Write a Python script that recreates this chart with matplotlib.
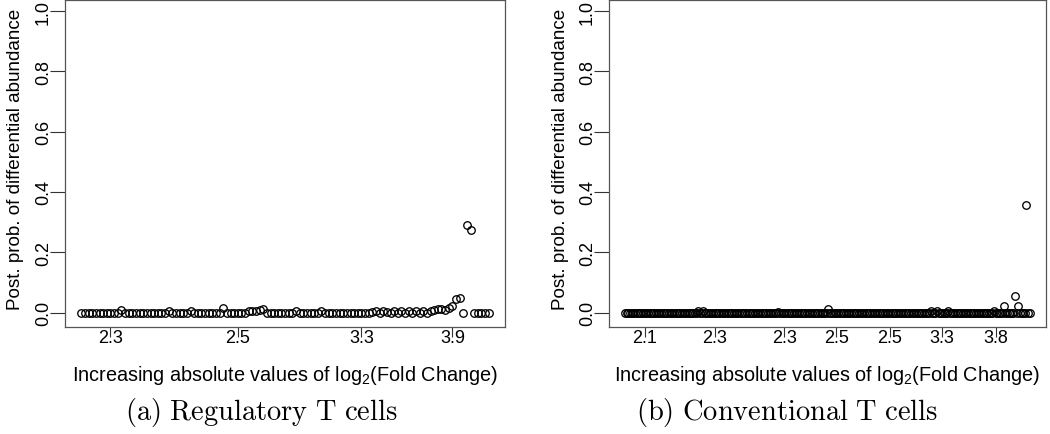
import matplotlib.pyplot as plt
import numpy as np

plt.rcParams['font.family'] = ['Liberation Sans', 'DejaVu Sans']
plt.rcParams['mathtext.fontset'] = 'cm'
plt.rcParams['mathtext.default'] = 'regular'

# (a) Regulatory T cells
n_a = 113
bump_idx_a = [12, 25, 31, 40, 47, 48, 49, 50, 51, 60, 67, 81, 82, 84, 85, 87, 89, 91,
              93, 95, 97, 98, 99, 100, 101, 102, 103, 104, 105, 106, 107, 108]
bump_val_a = [0.01, 0.004, 0.005, 0.014, 0.004, 0.006, 0.005, 0.007, 0.012, 0.004, 0.005,
              0.003, 0.006, 0.004, 0.003, 0.006, 0.004, 0.006, 0.004, 0.006, 0.006, 0.009,
              0.011, 0.013, 0.009, 0.015, 0.02, 0.045, 0.047, 0.0, 0.29, 0.275]
ticks_a = [9, 44, 78, 103]
labels_a = ["2.3", "2.5", "3.3", "3.9"]

# (b) Conventional T cells
n_b = 250
bump_idx_b = [46, 49, 95, 126, 189, 193, 200, 228, 234, 241, 243, 248]
bump_val_b = [0.005, 0.005, 0.003, 0.012, 0.005, 0.005, 0.005, 0.005, 0.02, 0.056, 0.02, 0.355]
ticks_b = [13, 56, 99, 131, 164, 196, 229]
labels_b = ["2.1", "2.3", "2.3", "2.5", "2.5", "3.3", "3.8"]

yticks = [0.0, 0.2, 0.4, 0.6, 0.8, 1.0]
ylabels = ["0.0", "0.2", "0.4", "0.6", "0.8", "1.0"]
xlab = r"Increasing absolute values of log$_2$(Fold Change)"
ylab = "Post. prob. of differential abundance"


def series(n, idx, val):
    y = np.zeros(n)
    for i, v in zip(idx, val):
        y[i - 1] = v
    return np.arange(1, n + 1), y


fig = plt.figure(figsize=(10.5, 4.35), dpi=100)
ax1 = fig.add_axes([0.062, 0.246, 0.419, 0.752])
ax2 = fig.add_axes([0.580, 0.246, 0.416, 0.752])

panels = [
    (ax1, n_a, bump_idx_a, bump_val_a, ticks_a, labels_a, -0.112),
    (ax2, n_b, bump_idx_b, bump_val_b, ticks_b, labels_b, -0.110),
]

for ax, n, idx, val, tks, lbs, ylx in panels:
    x, y = series(n, idx, val)
    ax.plot(x, y, linestyle='none', marker='o', ms=5.4, mfc='none',
            mec='black', mew=0.95)
    pad = 0.04 * (n - 1)
    ax.set_xlim(1 - pad, n + pad)
    ax.set_ylim(-0.048, 1.037)
    ax.set_xticks(tks)
    ax.set_xticklabels(lbs)
    ax.set_yticks(yticks)
    ax.set_yticklabels(ylabels)
    ax.tick_params(axis='x', length=7, width=0.8, pad=-5.5, labelsize=13,
                   colors='#333', labelcolor='black')
    ax.tick_params(axis='y', length=11, width=0.8, pad=-1.5, labelsize=13,
                   colors='#333', labelcolor='black', labelrotation=90)
    for lab in ax.get_yticklabels():
        lab.set_va('center')
    for s in ax.spines.values():
        s.set_color('#555')
        s.set_linewidth(0.9)
    ax.set_xlabel(xlab, fontsize=14.3, va='center')
    ax.xaxis.set_label_coords(0.5, -0.144)
    ax.set_ylabel(ylab, fontsize=13.6, va='center', ha='center')
    ax.yaxis.set_label_coords(ylx, 0.515)

fig.text(0.249, 0.052, r"$\mathrm{(a)\ Regulatory\ T\ cells}$", fontsize=20.5,
         ha='center', va='center')
fig.text(0.750, 0.052, r"$\mathrm{(b)\ Conventional\ T\ cells}$", fontsize=20.5,
         ha='center', va='center')

fig.savefig("out.png", dpi=100)
